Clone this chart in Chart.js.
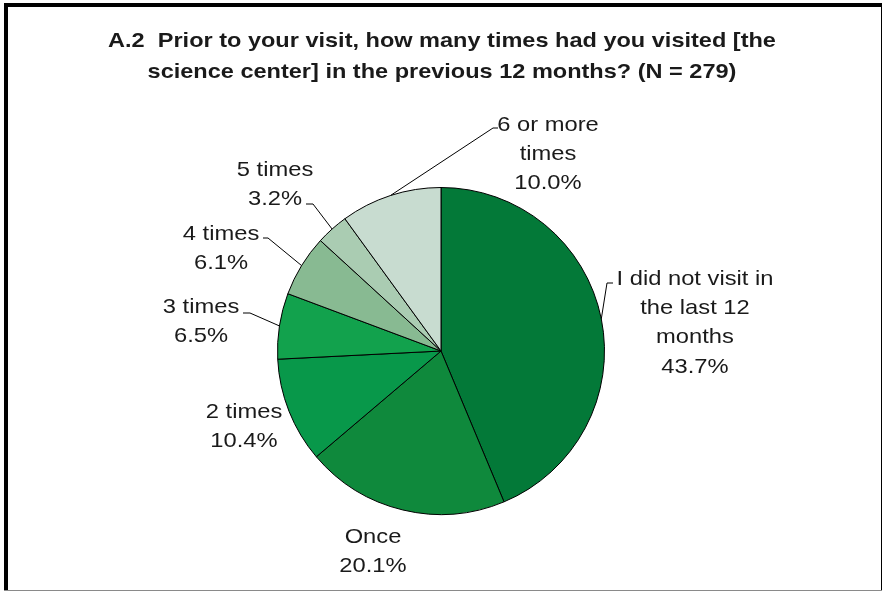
<!DOCTYPE html>
<html>
<head>
<meta charset="utf-8">
<script src="https://cdn.jsdelivr.net/npm/chart.js@4.4.1/dist/chart.umd.min.js"></script>
<style>
  html, body { margin: 0; padding: 0; background: #fff; }
  #wrap { position: relative; width: 883px; height: 592px; }
</style>
</head>
<body>
<div id="wrap"><canvas id="pieChart" width="883" height="592"></canvas></div>
<script>
// Data
const categories = ["I did not visit in the last 12 months", "Once", "2 times", "3 times", "4 times", "5 times", "6 or more times"];
const percentages = [43.7, 20.1, 10.4, 6.5, 6.1, 3.2, 10.0];
const labelLines = [
  ["I did not visit in", "the last 12", "months"],
  ["Once"],
  ["2 times"],
  ["3 times"],
  ["4 times"],
  ["5 times"],
  ["6 or more", "times"]
];
const titleLines = [
  "A.2  Prior to your visit, how many times had you visited [the",
  "science center] in the previous 12 months? (N = 279)"
];

// Styling
const sliceColors = ['#037938', '#0f893c', '#08984a', '#12a24d', '#88ba92', '#aaccb2', '#c8dcd0'];
const textColor = '#1a1a1a';
const titleStretch = 1.12;
const labelStretch = 1.13; // text in the reference is a little wide
// label placement: text centre x, first line y, leader elbow points (or null)
const labelPlace = [
  { x: 695, y: 279, leader: [[607, 283], [613, 283]] },
  { x: 373, y: 537, leader: null },
  { x: 244, y: 412, leader: null },
  { x: 201, y: 307, leader: [[250, 313], [243, 313]] },
  { x: 221, y: 234, leader: [[268, 238], [263, 238]] },
  { x: 275, y: 170, leader: [[313, 204], [306, 204]] },
  { x: 548, y: 125, leader: [[493, 128], [498, 128]] }
];

function stretchedText(ctx, txt, x, y, sx) {
  ctx.save();
  ctx.translate(x, y);
  ctx.scale(sx, 1);
  ctx.fillText(txt, 0, 0);
  ctx.restore();
}

const decorations = {
  id: 'decorations',
  beforeDraw(chart) {
    const ctx = chart.ctx;
    ctx.save();
    ctx.fillStyle = '#fff';
    ctx.fillRect(0, 0, chart.width, chart.height);
    // frame
    ctx.fillStyle = '#000';
    ctx.fillRect(4, 3, 878, 4);
    ctx.fillRect(4, 3, 4, 588);
    ctx.fillRect(881, 3, 1, 588);
    ctx.fillStyle = '#8a8a8a';
    ctx.fillRect(4, 590, 878, 1);
    // title
    ctx.fillStyle = textColor;
    ctx.font = 'bold 21px "Liberation Sans", Arial, sans-serif';
    ctx.textAlign = 'center';
    ctx.textBaseline = 'middle';
    titleLines.forEach((t, i) => stretchedText(ctx, t, 442, 41 + i * 31, titleStretch));
    ctx.restore();
  },
  afterDraw(chart) {
    const ctx = chart.ctx;
    const arcs = chart.getDatasetMeta(0).data;
    ctx.save();
    ctx.font = '21px "Liberation Sans", Arial, sans-serif';
    ctx.textAlign = 'center';
    ctx.textBaseline = 'middle';
    arcs.forEach((arc, i) => {
      const p = labelPlace[i];
      const mid = (arc.startAngle + arc.endAngle) / 2;
      if (p.leader) {
        ctx.strokeStyle = '#000';
        ctx.lineWidth = 1;
        ctx.beginPath();
        ctx.moveTo(arc.x + Math.cos(mid) * arc.outerRadius, arc.y + Math.sin(mid) * arc.outerRadius);
        p.leader.forEach(pt => ctx.lineTo(pt[0], pt[1]));
        ctx.stroke();
      }
      const lines = labelLines[i].concat([percentages[i].toFixed(1) + '%']);
      ctx.fillStyle = textColor;
      lines.forEach((t, k) => stretchedText(ctx, t, p.x, p.y + k * 29.3, labelStretch));
    });
    ctx.restore();
  }
};

new Chart(document.getElementById('pieChart').getContext('2d'), {
  type: 'pie',
  data: {
    labels: categories,
    datasets: [{
      data: percentages,
      backgroundColor: sliceColors,
      borderColor: '#000',
      borderWidth: 1
    }]
  },
  options: {
    responsive: false,
    animation: false,
    layout: { padding: { top: 187, bottom: 77, left: 100, right: 101 } },
    plugins: { legend: { display: false }, tooltip: { enabled: false }, title: { display: false } }
  },
  plugins: [decorations]
});
</script>
</body>
</html>
